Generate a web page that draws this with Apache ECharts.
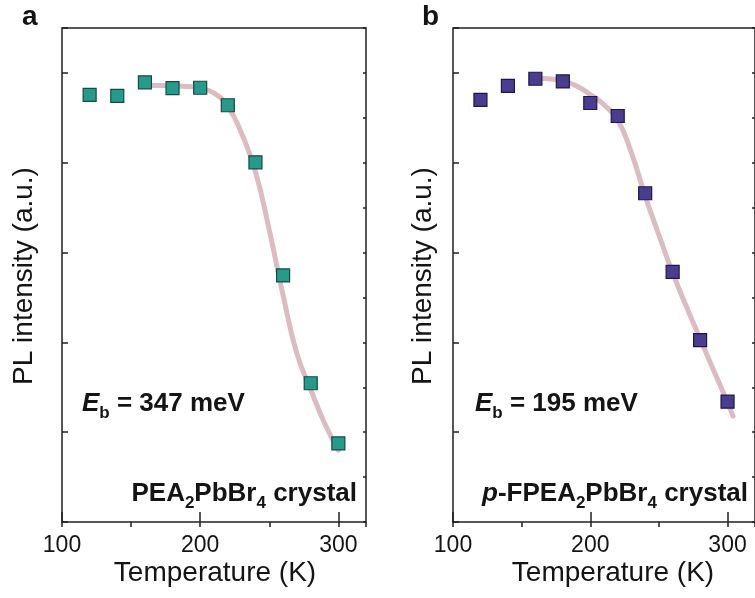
<!DOCTYPE html>
<html>
<head>
<meta charset="utf-8">
<script src="https://cdn.jsdelivr.net/npm/echarts@6/dist/echarts.min.js"></script>
<style>
html,body{margin:0;padding:0;background:#fff;}
#c{width:755px;height:598px;}
</style>
</head>
<body>
<div id="c"></div>
<script>
// ---- data ----
const temps = [120, 140, 160, 180, 200, 220, 240, 260, 280, 300];
const peaPL = [9.51, 9.49, 9.79, 9.66, 9.67, 9.28, 8.01, 5.49, 3.09, 1.75];
const fpeaPL = [9.40, 9.71, 9.87, 9.81, 9.33, 9.04, 7.32, 5.57, 4.05, 2.68];

const fitTempsA = [160, 170, 180, 190, 200, 210, 220, 230, 240, 250, 260, 270, 280, 290, 300];
const fitA = [9.72, 9.72, 9.71, 9.70, 9.66, 9.55, 9.25, 8.65, 7.80, 6.50, 5.05, 3.75, 2.95, 2.20, 1.60];
const fitTempsB = [160, 170, 180, 190, 200, 210, 220, 230, 240, 250, 260, 270, 280, 290, 300, 304];
const fitB = [9.88, 9.87, 9.82, 9.71, 9.52, 9.29, 8.95, 8.22, 7.26, 6.39, 5.55, 4.80, 4.08, 3.37, 2.66, 2.36];

const xTickLabels = [100, 200, 300];

// ---- styles ----
const FONT = "'Liberation Sans', Arial, Helvetica, sans-serif";
const AX = '#231f20';
const TXT = '#141414';
const FIT = '#dcbcc3';

const pairs = (xs, ys) => xs.map((x, i) => [x, ys[i]]);

function xAxes(g) {
  return [
    {
      gridIndex: g, type: 'value', min: 100, max: 320, interval: 100,
      axisLine: { show: false },
      axisTick: { inside: true, length: 10, lineStyle: { color: AX, width: 1.5 } },
      axisLabel: {
        fontSize: 23, fontFamily: FONT, color: TXT, margin: 12, showMaxLabel: false,
        formatter: v => (xTickLabels.indexOf(v) >= 0 ? String(v) : '')
      },
      splitLine: { show: false }
    },
    {
      gridIndex: g, type: 'value', min: 100, max: 320, interval: 50,
      axisLine: { show: false },
      axisTick: { inside: true, length: 5, lineStyle: { color: AX, width: 1.5 } },
      axisLabel: { show: false },
      splitLine: { show: false }
    }
  ];
}
function yAxes(g) {
  return [
    {
      gridIndex: g, type: 'value', min: 0, max: 11, interval: 2,
      axisLine: { show: false },
      axisTick: { inside: true, length: 6, lineStyle: { color: AX, width: 1.5 } },
      axisLabel: { show: false },
      splitLine: { show: false }
    },
    {
      gridIndex: g, type: 'value', min: 0, max: 11, interval: 1,
      axisLine: { show: false },
      axisTick: { inside: true, length: 3, lineStyle: { color: AX, width: 1.5 } },
      axisLabel: { show: false },
      splitLine: { show: false }
    }
  ];
}

const rich = {
  e: { fontSize: 26, fontWeight: 'bold', fontStyle: 'italic', fontFamily: FONT, color: TXT, lineHeight: 26 },
  m: { fontSize: 26, fontWeight: 'bold', fontFamily: FONT, color: TXT, lineHeight: 26 },
  s: { fontSize: 17, fontWeight: 'bold', fontFamily: FONT, color: TXT, lineHeight: 6, padding: [19, 0, 0, 0] }
};

function txt(x, y, text, opts) {
  return Object.assign({
    type: 'text', x: x, y: y,
    style: Object.assign({ text: text, fontFamily: FONT, fill: TXT }, opts.style || {})
  }, opts.el || {});
}

const chart = echarts.init(document.getElementById('c'), null, { renderer: 'canvas' });
chart.setOption({
  animation: false,
  backgroundColor: '#fff',
  grid: [
    { left: 62, top: 28, width: 304, height: 494, show: true, borderColor: AX, borderWidth: 1.5, backgroundColor: 'transparent' },
    { left: 453, top: 28, width: 304, height: 494, show: true, borderColor: AX, borderWidth: 1.5, backgroundColor: 'transparent' }
  ],
  xAxis: xAxes(0).concat(xAxes(1)),
  yAxis: yAxes(0).concat(yAxes(1)),
  series: [
    {
      type: 'line', xAxisIndex: 0, yAxisIndex: 0, data: pairs(fitTempsA, fitA),
      smooth: true, showSymbol: false, z: 2,
      lineStyle: { color: FIT, width: 5, cap: 'round' }
    },
    {
      type: 'scatter', xAxisIndex: 0, yAxisIndex: 0, data: pairs(temps, peaPL),
      symbol: 'rect', symbolSize: 13, z: 3,
      itemStyle: { color: '#279a8a', borderColor: '#104d44', borderWidth: 1.2, opacity: 1 }
    },
    {
      type: 'line', xAxisIndex: 2, yAxisIndex: 2, data: pairs(fitTempsB, fitB),
      smooth: true, showSymbol: false, z: 2,
      lineStyle: { color: FIT, width: 5, cap: 'round' }
    },
    {
      type: 'scatter', xAxisIndex: 2, yAxisIndex: 2, data: pairs(temps, fpeaPL),
      symbol: 'rect', symbolSize: 13, z: 3,
      itemStyle: { color: '#4b3d8d', borderColor: '#1e1650', borderWidth: 1.2, opacity: 1 }
    }
  ],
  graphic: [
    txt(22, 17, 'a', { style: { fontSize: 28, fontWeight: 'bold', verticalAlign: 'middle' } }),
    txt(422, 17, 'b', { style: { fontSize: 28, fontWeight: 'bold', verticalAlign: 'middle' } }),
    txt(215, 573, 'Temperature (K)', { style: { fontSize: 28, align: 'center', verticalAlign: 'middle' } }),
    txt(613, 573, 'Temperature (K)', { style: { fontSize: 28, align: 'center', verticalAlign: 'middle' } }),
    txt(24, 276, 'PL intensity (a.u.)', { style: { fontSize: 28, align: 'center', verticalAlign: 'middle' }, el: { rotation: Math.PI / 2 } }),
    txt(423, 276, 'PL intensity (a.u.)', { style: { fontSize: 28, align: 'center', verticalAlign: 'middle' }, el: { rotation: Math.PI / 2 } }),
    txt(82, 404, '{e|E}{s|b}{m| = 347 meV}', { style: { rich: rich, align: 'left', verticalAlign: 'middle' } }),
    txt(357, 494, '{m|PEA}{s|2}{m|PbBr}{s|4}{m| crystal}', { style: { rich: rich, align: 'right', verticalAlign: 'middle' } }),
    txt(475, 404, '{e|E}{s|b}{m| = 195 meV}', { style: { rich: rich, align: 'left', verticalAlign: 'middle' } }),
    txt(748, 494, '{e|p}{m|-FPEA}{s|2}{m|PbBr}{s|4}{m| crystal}', { style: { rich: rich, align: 'right', verticalAlign: 'middle' } })
  ]
});
</script>
</body>
</html>
